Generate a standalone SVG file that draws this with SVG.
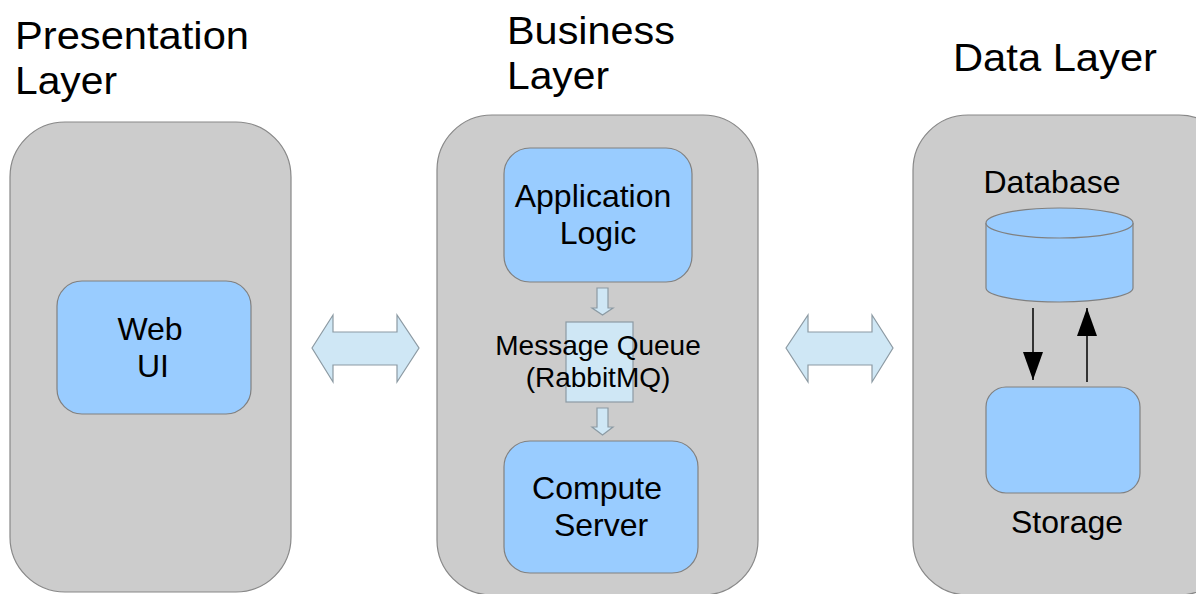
<svg xmlns="http://www.w3.org/2000/svg" width="1196" height="594" viewBox="0 0 1196 594">
  <style>
    text { font-family: "Liberation Sans", Arial, sans-serif; fill: #000; }
    .title { font-size: 38px; }
    .label { font-size: 32px; text-anchor: middle; }
    .small { font-size: 28px; text-anchor: middle; }
    .layer { fill: #cccccc; stroke: #888888; stroke-width: 1.2; }
    .box { fill: #99ccff; stroke: #808080; stroke-width: 1.2; }
    .flow { fill: #cfe7f5; stroke: #8c9aa3; stroke-width: 1.2; }
    .link { stroke: #000; stroke-width: 1.5; fill: none; }
  </style>
  <defs>
    <marker id="head" markerUnits="userSpaceOnUse" markerWidth="28" markerHeight="20" viewBox="0 0 28 20" refX="28" refY="10" orient="auto">
      <path d="M0,0 L28,10 L0,20 Z" fill="#000"/>
    </marker>
  </defs>

  <rect width="1196" height="594" fill="#ffffff"/>

  <!-- layer titles -->
  <g id="titles">
    <text class="title" x="15" y="49" textLength="234" lengthAdjust="spacingAndGlyphs">Presentation</text>
    <text class="title" x="15" y="94" textLength="102" lengthAdjust="spacingAndGlyphs">Layer</text>
    <text class="title" x="507" y="44" textLength="168" lengthAdjust="spacingAndGlyphs">Business</text>
    <text class="title" x="507" y="89" textLength="102" lengthAdjust="spacingAndGlyphs">Layer</text>
    <text class="title" x="953" y="71" textLength="204" lengthAdjust="spacingAndGlyphs">Data Layer</text>
  </g>

  <!-- presentation layer -->
  <g id="presentation-layer">
    <rect class="layer" x="10" y="122" width="281" height="470" rx="55" ry="55"/>
  </g>
  <g id="web-ui">
    <rect class="box" x="57" y="281" width="194" height="133" rx="25" ry="25"/>
    <text class="label" x="150" y="340">Web</text>
    <text class="label" x="153" y="377">UI</text>
  </g>

  <!-- business layer -->
  <g id="business-layer">
    <rect class="layer" x="437" y="115" width="321" height="480" rx="55" ry="55"/>
  </g>
  <g id="application-logic">
    <rect class="box" x="504" y="148" width="188" height="134" rx="26" ry="26"/>
    <text class="label" x="593" y="207">Application</text>
    <text class="label" x="598" y="244">Logic</text>
  </g>
  <g id="message-queue">
    <rect class="flow" x="566" y="322" width="67" height="80"/>
    <text class="small" x="598" y="355">Message Queue</text>
    <text class="small" x="598" y="387">(RabbitMQ)</text>
  </g>
  <g id="compute-server">
    <rect class="box" x="504" y="441" width="194" height="132" rx="26" ry="26"/>
    <text class="label" x="597" y="499">Compute</text>
    <text class="label" x="601" y="536">Server</text>
  </g>

  <!-- data layer -->
  <g id="data-layer">
    <rect class="layer" x="913" y="115" width="321" height="480" rx="55" ry="55"/>
  </g>
  <g id="database">
    <text class="label" x="1052" y="193">Database</text>
    <path class="box" d="M986,223 L986,288 A73.5,14 0 0 0 1133,288 L1133,223"/>
    <ellipse class="box" cx="1059.5" cy="223" rx="73.5" ry="15"/>
  </g>
  <g id="storage">
    <rect class="box" x="986" y="387" width="154" height="106" rx="20" ry="20"/>
    <text class="label" x="1067" y="533">Storage</text>
  </g>

  <!-- connectors -->
  <g id="connectors">
    <polygon class="flow" points="312,348 333,315 333,332 397,332 397,315 419,348 397,382 397,365 333,365 333,382"/>
    <polygon class="flow" points="786,348 808,315 808,332 872,332 872,315 893,348 872,382 872,365 808,365 808,382"/>
    <polygon class="flow" points="597,288 608,288 608,308 613,308 602.5,315 592,308 597,308"/>
    <polygon class="flow" points="597,408 608,408 608,427 613,427 602.5,435 592,427 597,427"/>
    <line class="link" x1="1033" y1="308" x2="1033" y2="380" marker-end="url(#head)"/>
    <line class="link" x1="1087" y1="382" x2="1087" y2="308" marker-end="url(#head)"/>
  </g>
</svg>
